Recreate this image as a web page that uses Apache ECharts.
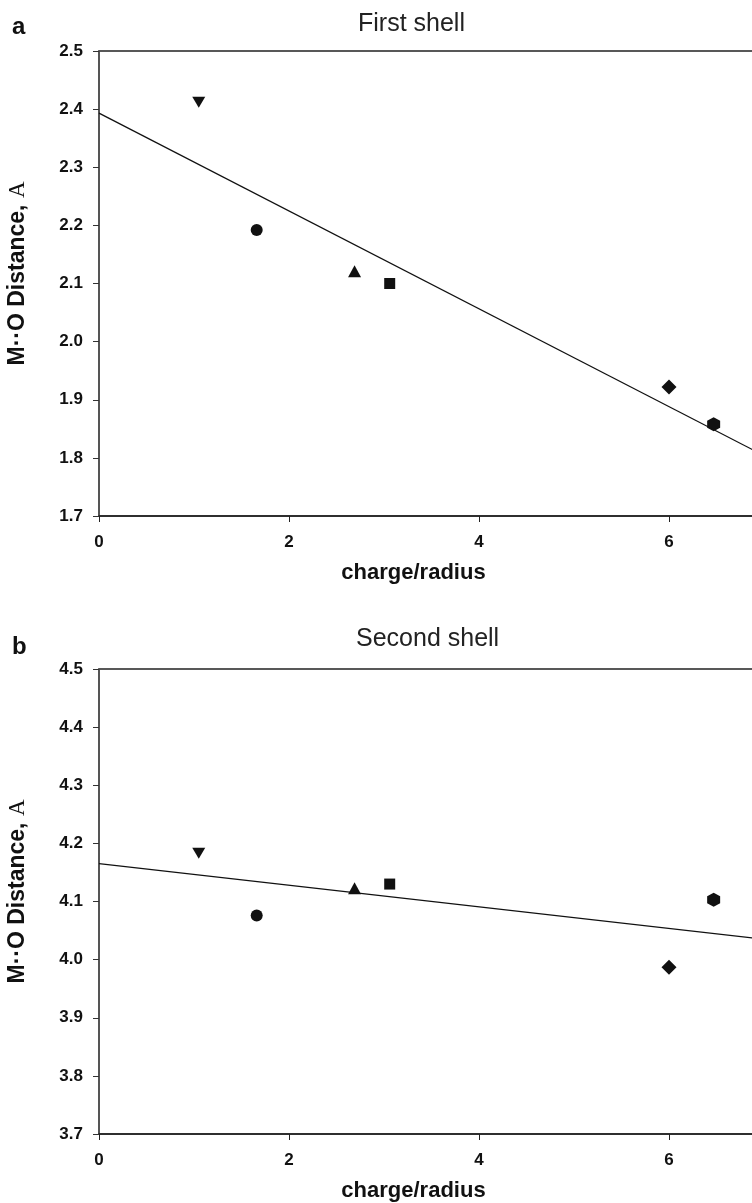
<!DOCTYPE html>
<html>
<head>
<meta charset="utf-8">
<script src="https://cdn.jsdelivr.net/npm/echarts@6/dist/echarts.min.js"></script>
<style>
  html, body { margin: 0; padding: 0; background: #fff; }
  #chart { width: 752px; height: 1203px; }
</style>
</head>
<body>
<div id="chart"></div>
<script>
// 数据
const chargeRadius = [1.05, 1.66, 2.69, 3.06, 6.0, 6.47]
const firstShell = [2.412, 2.192, 2.121, 2.100, 1.922, 1.858]
const secondShell = [4.183, 4.076, 4.123, 4.130, 3.987, 4.103]

// 拟合直线两端
const fitX = [0, 7]
const firstFitY = [2.393, 1.804]
const secondFitY = [4.165, 4.035]

const xTicks = [0, 2, 4, 6]

// 每个点的符号
const hexagon = 'path://M0,-1L0.866,-0.5L0.866,0.5L0,1L-0.866,0.5L-0.866,-0.5Z'
const markerShapes = [
  { symbol: 'triangle', symbolRotate: 180, symbolSize: [13, 11] },
  { symbol: 'circle', symbolSize: 12 },
  { symbol: 'triangle', symbolSize: [13, 12] },
  { symbol: 'rect', symbolSize: 11 },
  { symbol: 'diamond', symbolSize: [15, 15] },
  { symbol: hexagon, symbolSize: [13, 14] }
]

const ink = '#111'
const font = 'Liberation Sans, Arial, sans-serif'

const makePoints = (ys) => chargeRadius.map((x, i) => ({
  value: [x, ys[i]],
  ...markerShapes[i]
}))

const makeFit = (ys) => fitX.map((x, i) => [x, ys[i]])

const xAxisFor = (gridIndex) => ({
  type: 'value',
  gridIndex,
  min: 0,
  max: 7,
  interval: 2,
  name: 'charge/radius',
  nameLocation: 'middle',
  nameGap: 46,
  nameTextStyle: {
    fontSize: 22, fontWeight: 'bold', color: ink, fontFamily: font,
    padding: [0, 36, 0, 0]
  },
  axisLine: { lineStyle: { color: '#222', width: 1.5 } },
  axisTick: { length: 6, lineStyle: { color: '#222' }, customValues: xTicks },
  axisLabel: {
    fontSize: 17, fontWeight: 'bold', color: ink, fontFamily: font,
    margin: 18, customValues: xTicks
  },
  splitLine: { show: false }
})

const yAxisFor = (gridIndex, min, max) => ({
  type: 'value',
  gridIndex,
  min,
  max,
  interval: 0.1,
  name: 'M··O Distance, {s|A}',
  nameLocation: 'middle',
  nameGap: 70,
  nameTextStyle: {
    fontSize: 23, fontWeight: 'bold', color: ink, fontFamily: font,
    padding: [0, 0, 0, 20],
    rich: {
      s: { fontSize: 23, fontWeight: 'normal', fontFamily: 'Liberation Serif, serif', color: ink }
    }
  },
  axisLine: { lineStyle: { color: '#555', width: 1.5 } },
  axisTick: { length: 6, lineStyle: { color: '#333' } },
  axisLabel: {
    fontSize: 17, fontWeight: 'bold', color: ink, fontFamily: font,
    margin: 16,
    formatter: (v) => v.toFixed(1)
  },
  splitLine: { show: false }
})

const chart = echarts.init(document.getElementById('chart'), null, { renderer: 'canvas' })

// 图的右边缘在 x≈6.87 处被裁掉，所以网格宽度超出画布
const gridBase = {
  left: 99, height: 465, width: 665,
  containLabel: false, outerBoundsMode: 'none',
  show: true, borderColor: '#222', borderWidth: 1.5
}

const option = {
  backgroundColor: '#fff',
  animation: false,
  title: [
    { text: 'a', left: 12, top: 15, padding: 0, textStyle: { fontSize: 24, fontWeight: 'bold', color: ink, fontFamily: font } },
    { text: 'First shell', left: 358, top: 12, padding: 0, textStyle: { fontSize: 25, fontWeight: 'normal', color: '#222', fontFamily: font } },
    { text: 'b', left: 12, top: 635, padding: 0, textStyle: { fontSize: 24, fontWeight: 'bold', color: ink, fontFamily: font } },
    { text: 'Second shell', left: 356, top: 627, padding: 0, textStyle: { fontSize: 25, fontWeight: 'normal', color: '#222', fontFamily: font } }
  ],
  grid: [
    { ...gridBase, top: 51 },
    { ...gridBase, top: 669 }
  ],
  xAxis: [xAxisFor(0), xAxisFor(1)],
  yAxis: [yAxisFor(0, 1.7, 2.5), yAxisFor(1, 3.7, 4.5)],
  series: [
    {
      type: 'line', xAxisIndex: 0, yAxisIndex: 0,
      data: makeFit(firstFitY), symbol: 'none',
      lineStyle: { color: ink, width: 1.3 }
    },
    {
      type: 'scatter', xAxisIndex: 0, yAxisIndex: 0,
      data: makePoints(firstShell),
      itemStyle: { color: ink, opacity: 1 }
    },
    {
      type: 'line', xAxisIndex: 1, yAxisIndex: 1,
      data: makeFit(secondFitY), symbol: 'none',
      lineStyle: { color: ink, width: 1.3 }
    },
    {
      type: 'scatter', xAxisIndex: 1, yAxisIndex: 1,
      data: makePoints(secondShell),
      itemStyle: { color: ink, opacity: 1 }
    }
  ]
}

chart.setOption(option)
</script>
</body>
</html>
